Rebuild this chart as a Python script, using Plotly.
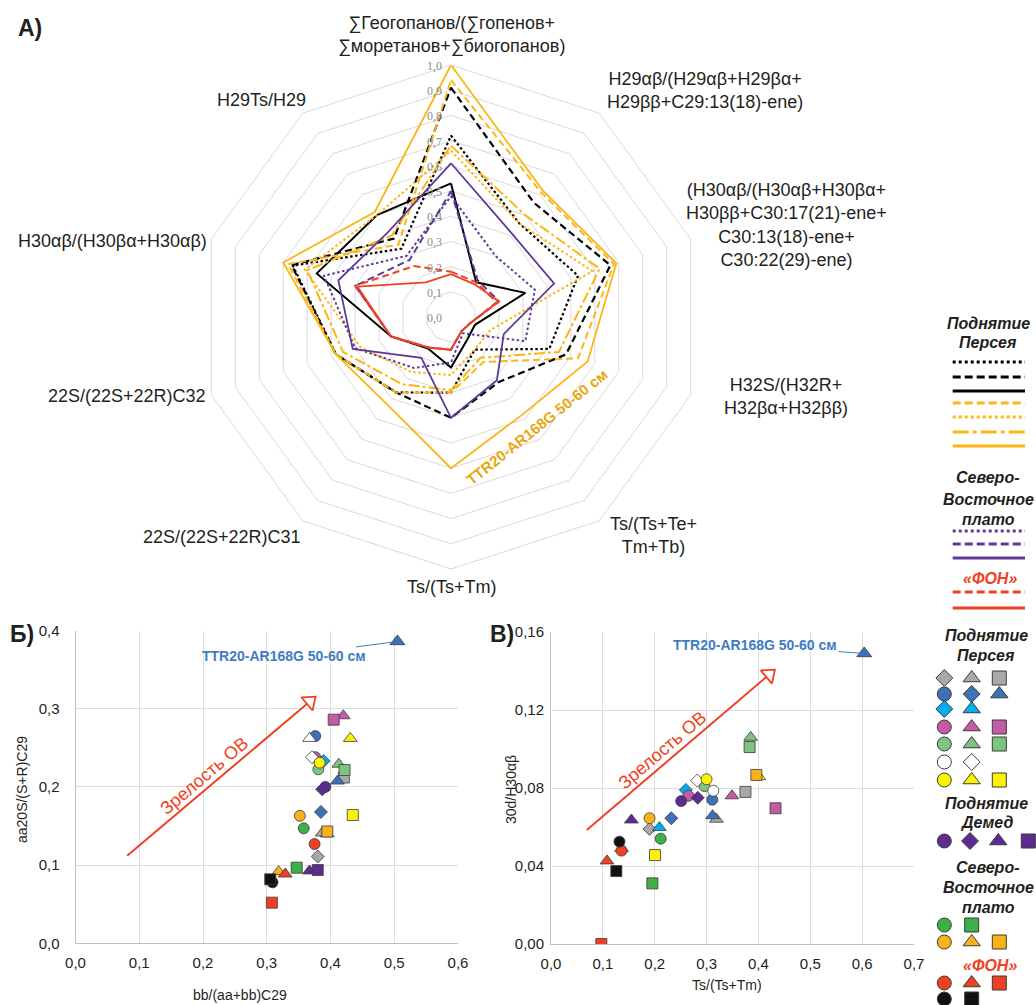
import math
import plotly.graph_objects as go

W, H = 1036, 1005

# ---------------- DATA ----------------
RADAR_AXES = [
    "∑Геогопанов/(∑гопенов+<br>∑моретанов+∑биогопанов)",
    "H29αβ/(H29αβ+H29βα+<br>H29ββ+C29:13(18)-ene)",
    "(H30αβ/(H30αβ+H30βα+<br>H30ββ+C30:17(21)-ene+<br>C30:13(18)-ene+<br>C30:22(29)-ene)",
    "H32S/(H32R+<br>H32βα+H32ββ)",
    "Ts/(Ts+Te+<br>Tm+Tb)",
    "Ts/(Ts+Tm)",
    "22S/(22S+22R)C31",
    "22S/(22S+22R)C32",
    "H30αβ/(H30βα+H30αβ)",
    "H29Ts/H29",
]
RADAR_TICKS = [0.0, 0.1, 0.2, 0.3, 0.4, 0.5, 0.6, 0.7, 0.8, 0.9, 1.0]

perseus_black_dotted = [0.72, 0.46, 0.53, 0.41, 0.16, 0.30, 0.37, 0.48, 0.66, 0.335]
perseus_black_dashed = [0.91, 0.56, 0.665, 0.48, 0.32, 0.40, 0.37, 0.48, 0.665, 0.385]
perseus_black_solid = [0.53, 0.17, 0.31, 0.10, 0.11, 0.20, 0.155, 0.25, 0.56, 0.50]
perseus_orange_dashed = [0.94, 0.61, 0.68, 0.53, 0.22, 0.30, 0.37, 0.48, 0.68, 0.355]
perseus_orange_dotted = [0.66, 0.46, 0.59, 0.165, 0.16, 0.23, 0.27, 0.38, 0.61, 0.50]
perseus_orange_dashdot = [0.68, 0.50, 0.62, 0.45, 0.20, 0.29, 0.33, 0.45, 0.60, 0.40]
perseus_orange_solid = [1.00, 0.62, 0.69, 0.57, 0.48, 0.60, 0.43, 0.48, 0.70, 0.515]
ne_purple_dotted = [0.48, 0.30, 0.35, 0.31, 0.08, 0.18, 0.25, 0.40, 0.53, 0.30]
ne_purple_dashed = [0.50, 0.18, 0.20, 0.08, 0.07, 0.13, 0.15, 0.25, 0.40, 0.28]
ne_purple_solid = [0.61, 0.41, 0.43, 0.22, 0.31, 0.40, 0.20, 0.41, 0.47, 0.42]
bg_red_dashed = [0.18, 0.17, 0.19, 0.08, 0.07, 0.13, 0.15, 0.25, 0.40, 0.25]
bg_red_solid = [0.17, 0.16, 0.20, 0.08, 0.07, 0.13, 0.15, 0.25, 0.39, 0.17]

# scatter points: (colour key, shape key)
point_keys = [
    ("gray", "diamond"), ("gray", "triangle"), ("gray", "square"),
    ("blue", "circle"), ("blue", "diamond"), ("blue", "triangle"),
    ("cyan", "diamond"), ("cyan", "triangle"),
    ("pink", "circle"), ("pink", "triangle"), ("pink", "square"),
    ("lgreen", "circle"), ("lgreen", "triangle"), ("lgreen", "square"),
    ("white", "circle"), ("white", "diamond"), ("white", "triangle"),
    ("yellow", "circle"), ("yellow", "triangle"), ("yellow", "square"),
    ("purple", "circle"), ("purple", "diamond"), ("purple", "triangle"), ("purple", "square"),
    ("green", "circle"), ("green", "square"),
    ("orange", "circle"), ("orange", "triangle"), ("orange", "square"),
    ("red", "circle"), ("red", "triangle"), ("red", "square"),
    ("black", "circle"), ("black", "square"),
]
# Panel Б: bb/(aa+bb)C29 vs aa20S/(S+R)C29
b_x = [0.380, 0.387, 0.421, 0.376, 0.385, 0.411, 0.389, 0.395, 0.376, 0.420, 0.405,
       0.381, 0.413, 0.422, None, 0.371, 0.367, 0.383, 0.431, 0.435, 0.392, 0.387,
       0.367, 0.380, 0.358, 0.347, 0.352, 0.3186, 0.395, 0.375, 0.329, 0.308, 0.309, 0.3055]
b_y = [0.111, 0.141, 0.212, 0.265, 0.168, 0.2075, 0.233, 0.140, 0.238, 0.291, 0.286,
       0.2225, 0.229, 0.2216, None, 0.238, 0.262, 0.231, 0.262, 0.164, 0.200, 0.197,
       0.0925, 0.0937, 0.147, 0.0967, 0.163, 0.0916, 0.143, 0.127, 0.0886, 0.052, 0.078, 0.0818]
# Panel В: Ts/(Ts+Tm) vs 30d/H30ab
v_x = [0.190, 0.319, 0.375, 0.311, 0.232, 0.3115, 0.260, 0.209, 0.265, 0.349, 0.433,
       0.296, 0.385, 0.383, 0.313, 0.282, None, 0.300, 0.401, 0.2006, 0.251, 0.283,
       0.155, None, 0.2115, 0.1955, 0.190, 0.136, 0.396, 0.136, 0.108, 0.097, 0.132, 0.126]
v_y = [0.059, 0.064, 0.078, 0.074, 0.0645, 0.0658, 0.079, 0.0597, 0.076, 0.076, 0.0696,
       0.081, 0.106, 0.101, 0.0786, 0.0838, None, 0.0845, 0.0858, 0.0456, 0.0733, 0.075,
       0.0636, None, 0.054, 0.0311, 0.0645, 0.049, 0.0867, 0.0479, 0.0426, 0.0, 0.0525, 0.0374]
TTR_LABEL = "TTR20-AR168G 50-60 см"
ttr_b = (0.505, 0.386)
ttr_v = (0.604, 0.149)

# maturity arrows (start, tip) in data units
arrow_b = ((0.081, 0.112), (0.376, 0.315))
arrow_v = ((0.069, 0.0585), (0.431, 0.1405))

# ---------------- STYLES ----------------
BLACK, ORANGE, PURPLE, RED = "#000000", "#FDB515", "#5E3A98", "#EF4123"
DOT, DASH, DASHDOT = "2.5px,2.5px", "7px,4px", "11px,3px,3px,3px"
radar_series = [
    (perseus_black_dotted, BLACK, DOT, 2.2),
    (perseus_black_dashed, BLACK, DASH, 2.2),
    (perseus_black_solid, BLACK, "solid", 2.0),
    (perseus_orange_dashed, ORANGE, DASH, 2.0),
    (perseus_orange_dotted, ORANGE, DOT, 2.0),
    (perseus_orange_dashdot, ORANGE, DASHDOT, 2.0),
    (perseus_orange_solid, ORANGE, "solid", 1.8),
    (ne_purple_dotted, PURPLE, DOT, 2.0),
    (ne_purple_dashed, PURPLE, DASH, 2.0),
    (ne_purple_solid, PURPLE, "solid", 1.8),
    (bg_red_dashed, RED, DASH, 2.0),
    (bg_red_solid, RED, "solid", 1.8),
]
# where each radar category label sits (px centre)
radar_label_pos = [(451, 35), (705, 90), (786, 225), (786, 396), (653, 535),
                   (452, 587), (222, 537), (127, 396), (112, 241), (261, 100)]
PCOL = {"gray": "#A7A9AC", "blue": "#3D72B6", "cyan": "#00AEEF", "pink": "#C35BA6",
        "lgreen": "#7CC47F", "white": "#FFFFFF", "yellow": "#FFF200", "purple": "#5C2D91",
        "green": "#3DB04A", "orange": "#FBB217", "red": "#EE4124", "black": "#111111"}
PSYM = {"circle": "circle", "diamond": "diamond", "triangle": "triangle-up", "square": "square"}
PSIZE = {"circle": 11, "diamond": 10, "triangle": 12, "square": 11}
FONT = "Arial, Liberation Sans, sans-serif"
TXT = "#231F20"


def px_x(px):
    return px / W


def px_y(py):
    return 1 - py / H


fig = go.Figure()


def note(text, x, y, size, color=TXT, angle=0, xref="paper", yref="paper", family=FONT):
    if xref == "paper":
        x = px_x(x)
    if yref == "paper":
        y = px_y(y)
    fig.add_annotation(x=x, y=y, xref=xref, yref=yref, text=text, textangle=angle, showarrow=False,
                       xanchor="center", yanchor="middle", align="center",
                       font=dict(family=family, size=size, color=color))


# ---------------- RADAR ----------------
for vals, col, dash, w in radar_series:
    fig.add_trace(go.Scatterpolar(
        r=vals + [vals[0]], theta=RADAR_AXES + [RADAR_AXES[0]], mode="lines",
        line=dict(color=col, dash=dash, width=w), showlegend=False, hoverinfo="skip"))

pc_x, pc_y, pr = 451, 317, 252
fig.update_layout(polar=dict(
    domain=dict(x=[px_x(pc_x - pr), px_x(pc_x + pr)], y=[px_y(pc_y + pr), px_y(pc_y - pr)]),
    gridshape="linear", bgcolor="white",
    radialaxis=dict(range=[0, 1], tickvals=RADAR_TICKS, angle=90, showticklabels=False,
                    showline=False, gridcolor="#D9D9D9", gridwidth=1, ticks=""),
    angularaxis=dict(rotation=90, direction="clockwise", showgrid=False, linecolor="#D9D9D9",
                     linewidth=1, ticks="", showticklabels=False),
))
for lab, (lx, ly) in zip(RADAR_AXES, radar_label_pos):
    note(lab, lx, ly, 18)
# radial tick labels, placed just left of the vertical axis
for v in RADAR_TICKS:
    note(f"{v:.1f}".replace(".", ","), pc_x - 17, pc_y - pr * v + 1, 12, "#8C8C8C",
         family="Liberation Serif, Times New Roman, serif")

note("<b>" + TTR_LABEL + "</b>", 536, 427, 15, "#E8A60F", angle=-38.5)

# ---------------- SCATTER PANELS ----------------
dom_b = dict(x=[px_x(75.5), px_x(458)], y=[px_y(943.3), px_y(630.5)])
dom_v = dict(x=[px_x(551), px_x(914)], y=[px_y(944), px_y(632)])
rng_b = dict(x=[0, 0.6], y=[0, 0.4])
rng_v = dict(x=[0, 0.7], y=[0, 0.16])

axis_common = dict(showgrid=True, gridcolor="#DDDDDD", gridwidth=1, zeroline=False, showline=True,
                   linecolor="#BFBFBF", linewidth=1, ticks="", tickfont=dict(family=FONT, size=15, color=TXT),
                   fixedrange=True, automargin=False)
fig.update_layout(
    xaxis=dict(domain=dom_b["x"], range=rng_b["x"], dtick=0.1, tickformat=".1f", anchor="y",
               ticklabelstandoff=6, **axis_common),
    yaxis=dict(domain=dom_b["y"], range=rng_b["y"], dtick=0.1, tickformat=".1f", anchor="x",
               ticklabelstandoff=12, **axis_common),
    xaxis2=dict(domain=dom_v["x"], range=rng_v["x"], dtick=0.1, tickformat=".1f", anchor="y2",
                ticklabelstandoff=6, **axis_common),
    yaxis2=dict(domain=dom_v["y"], range=rng_v["y"], dtick=0.04, tickformat=".2f", anchor="x2",
                ticklabelstandoff=3, **axis_common),
    xaxis3=dict(domain=[0, 1], range=[0, W], visible=False, fixedrange=True, anchor="y3"),
    yaxis3=dict(domain=[0, 1], range=[H, 0], visible=False, fixedrange=True, anchor="x3"),
)


def px_per_unit(dom, rng):
    return ((dom["x"][1] - dom["x"][0]) * W / (rng["x"][1] - rng["x"][0]),
            (dom["y"][1] - dom["y"][0]) * H / (rng["y"][1] - rng["y"][0]))


def add_arrow(arrow, xa, ya, dom, rng):
    (x0, y0), (x1, y1) = arrow
    sx, sy = px_per_unit(dom, rng)
    dxp, dyp = (x1 - x0) * sx, (y1 - y0) * sy
    L = math.hypot(dxp, dyp)
    ux, uy = dxp / L, dyp / L
    back = 7.0
    fig.add_shape(type="line", xref=xa, yref=ya, x0=x0, y0=y0, x1=x1 - ux * back / sx, y1=y1 - uy * back / sy,
                  line=dict(color=RED, width=2), layer="between")
    ang = 90 - math.degrees(math.atan2(dyp, dxp))
    fig.add_trace(go.Scatter(x=[x1 - ux * back / sx], y=[y1 - uy * back / sy], xaxis=xa, yaxis=ya,
                             mode="markers", hoverinfo="skip", showlegend=False,
                             marker=dict(symbol="triangle-up", size=15, angle=ang, color="white",
                                         line=dict(color=RED, width=1.8))))


def add_points(xs, ys, xa, ya):
    for (ck, sk), x, y in zip(point_keys, xs, ys):
        if x is None:
            continue
        fig.add_trace(go.Scatter(x=[x], y=[y], xaxis=xa, yaxis=ya, mode="markers", showlegend=False,
                                 hoverinfo="skip",
                                 marker=dict(symbol=PSYM[sk], size=PSIZE[sk], color=PCOL[ck],
                                             line=dict(color="#3A3A3A", width=0.8))))


add_arrow(arrow_b, "x", "y", dom_b, rng_b)
add_arrow(arrow_v, "x2", "y2", dom_v, rng_v)
add_points(b_x, b_y, "x", "y")
add_points(v_x, v_y, "x2", "y2")
for (tx, ty), xa, ya in [(ttr_b, "x", "y"), (ttr_v, "x2", "y2")]:
    fig.add_trace(go.Scatter(x=[tx], y=[ty], xaxis=xa, yaxis=ya, mode="markers", showlegend=False,
                             hoverinfo="skip",
                             marker=dict(symbol="triangle-up", size=13, color=PCOL["blue"],
                                         line=dict(color="#3A3A3A", width=0.8))))

for (tx, ty), xa, ya, axp, ayp in [(ttr_b, "x", "y", -113, 15), (ttr_v, "x2", "y2", -109, -8)]:
    fig.add_annotation(x=tx, y=ty, xref=xa, yref=ya, ax=axp, ay=ayp, text="<b>" + TTR_LABEL + "</b>",
                       showarrow=True, arrowhead=0, arrowwidth=1, arrowcolor="#3F7CC2", standoff=5,
                       font=dict(family=FONT, size=14, color="#3F7CC2"))

note("Зрелость ОВ", 0.2017, 0.214, 18, RED, angle=-40.4, xref="x", yref="y")
note("Зрелость ОВ", 0.215, 0.0995, 18, RED, angle=-40.4, xref="x2", yref="y2")

# axis titles and panel letters
for txt, x, y, ang in [("aa20S/(S+R)C29", 22, 790, -90), ("30d/H30αβ", 511, 790, -90),
                       ("bb/(aa+bb)C29", 240, 995, 0), ("Ts/(Ts+Tm)", 727, 985, 0)]:
    note(txt, x, y, 14, angle=ang)
for txt, x, y in [("А)", 30, 28), ("Б)", 22, 634), ("В)", 502, 634)]:
    note("<b>" + txt + "</b>", x, y, 23)

# ---------------- CUSTOM LEGEND ----------------
def heading(txt, x, y, color=TXT):
    note("<b><i>" + txt + "</i></b>", x, y, 16, color)


heading("Поднятие", 988, 323)
heading("Персея", 988, 343)
legend_lines = [
    (362, BLACK, "3px,3px"), (377, BLACK, "8px,4px"), (391, BLACK, "solid"),
    (403, ORANGE, "8px,4px"), (417, ORANGE, "3px,3px"), (432, ORANGE, "16px,4px,4px,4px"), (446, ORANGE, "solid"),
    (531, PURPLE, "3px,3px"), (544, PURPLE, "8px,4px"), (558, PURPLE, "solid"),
    (592, RED, "8px,4px"), (608, RED, "solid"),
]
for y, col, dash in legend_lines:
    fig.add_shape(type="line", xref="paper", yref="paper", x0=px_x(952.7), x1=px_x(1025),
                  y0=px_y(y), y1=px_y(y), line=dict(color=col, width=3, dash=dash))
heading("Северо-", 988, 477)
heading("Восточное", 988, 499)
heading("плато", 988, 519)
heading("«ФОН»", 990, 578, RED)

heading("Поднятие", 986, 635)
heading("Персея", 986, 655)
heading("Поднятие", 986, 803)
heading("Демед", 986, 822)
heading("Северо-", 988, 867)
heading("Восточное", 988, 887)
heading("плато", 988, 907)
heading("«ФОН»", 990, 965, RED)

c1, c2, c3, c4 = 944.3, 971.7, 999.3, 1028.3
legend_marks = [
    (678, [(c1, "gray", "diamond"), (c2, "gray", "triangle"), (c3, "gray", "square")]),
    (694, [(c1, "blue", "circle"), (c2, "blue", "diamond"), (c3, "blue", "triangle")]),
    (709, [(c1, "cyan", "diamond"), (c2, "cyan", "triangle")]),
    (727, [(c1, "pink", "circle"), (c2, "pink", "triangle"), (c3, "pink", "square")]),
    (744, [(c1, "lgreen", "circle"), (c2, "lgreen", "triangle"), (c3, "lgreen", "square")]),
    (762, [(c1, "white", "circle"), (c2, "white", "diamond")]),
    (780, [(c1, "yellow", "circle"), (c2, "yellow", "triangle"), (c3, "yellow", "square")]),
    (841, [(c1, "purple", "circle"), (c2 - 1.7, "purple", "diamond"), (c3 - 1, "purple", "triangle"),
           (c4, "purple", "square")]),
    (925, [(c1, "green", "circle"), (c2, "green", "square")]),
    (942, [(c1, "orange", "circle"), (c2, "orange", "triangle"), (c3, "orange", "square")]),
    (983, [(c1, "red", "circle"), (c2, "red", "triangle"), (c3, "red", "square")]),
    (999, [(c1, "black", "circle"), (c2, "black", "square")]),
]
for y, items in legend_marks:
    for x, ck, sk in items:
        fig.add_trace(go.Scatter(x=[x], y=[y], xaxis="x3", yaxis="y3", mode="markers", showlegend=False,
                                 hoverinfo="skip", cliponaxis=False,
                                 marker=dict(symbol=PSYM[sk], size=PSIZE[sk] + 3, color=PCOL[ck],
                                             line=dict(color="#3A3A3A", width=1))))

fig.update_layout(width=W, height=H, margin=dict(l=0, r=0, t=0, b=0), paper_bgcolor="white",
                  plot_bgcolor="rgba(0,0,0,0)", separators=", ", showlegend=False,
                  font=dict(family=FONT, color=TXT))

fig.write_html("out.html",
               post_script="document.body.style.margin='0';document.body.style.padding='0';"
                           "document.body.style.overflow='hidden';")
